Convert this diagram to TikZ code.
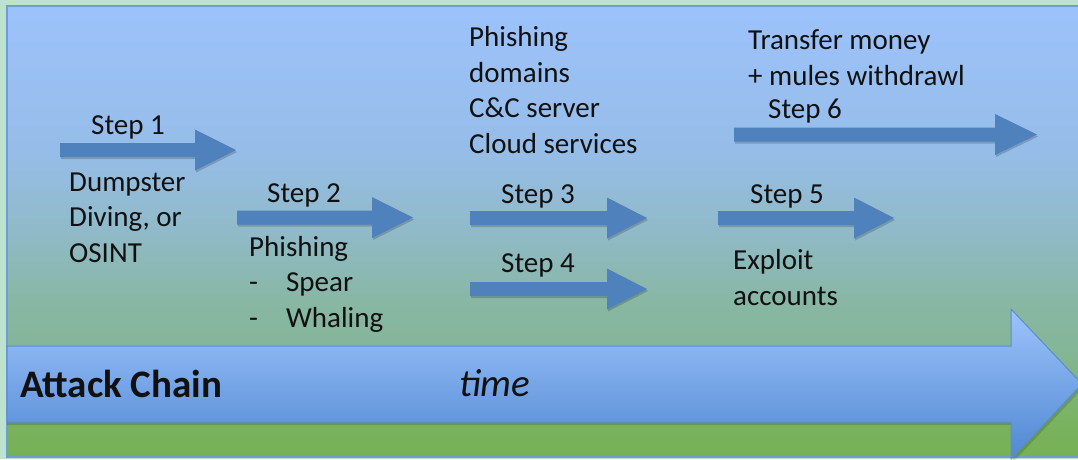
\documentclass[tikz,border=0pt]{standalone}
\usepackage{fontspec}
\setmainfont{Carlito}
\usetikzlibrary{shadows}

\definecolor{outerbg}{HTML}{BDE3CF}
\definecolor{pTop}{HTML}{9CC2FC}
\definecolor{pSky}{HTML}{96BDE8}
\definecolor{pTeal}{HTML}{90BAC8}
\definecolor{pSage}{HTML}{88B7A4}
\definecolor{pMoss}{HTML}{84B698}
\definecolor{pGreen}{HTML}{79B25B}
\definecolor{pGreenDeep}{HTML}{76B056}
\definecolor{panelEdge}{HTML}{6E9CD6}
\definecolor{stepBlue}{HTML}{4F81BD}
\definecolor{chainTop}{HTML}{9DC3FC}
\definecolor{chainBottom}{HTML}{5088D2}
\definecolor{chainEdge}{HTML}{5B8DD2}
\definecolor{inkText}{HTML}{111111}

% background panel: sky blue at the top fading to grass green at the bottom
\pgfdeclareverticalshading{panelfill}{100bp}{%
  color(0bp)=(pGreenDeep); color(25bp)=(pGreenDeep); color(28bp)=(pGreen);
  color(37bp)=(pMoss); color(42.4bp)=(pSage); color(50bp)=(pTeal);
  color(59bp)=(pSky); color(75bp)=(pTop); color(100bp)=(pTop)}

% block arrow: tail x, head start x, tip x, centre y
\newcommand{\blockarrow}[4]{%
  \fill[steparrow] (#1,#4-7) -- (#2,#4-7) -- (#2,#4-20.5) -- (#3,#4)
    -- (#2,#4+20.5) -- (#2,#4+7) -- (#1,#4+7) -- cycle;}

\newcommand{\dashitem}[1]{\makebox[37pt][l]{-}#1}

\begin{document}
\begin{tikzpicture}[x=1pt,y=-1pt,
  steparrow/.style={fill=stepBlue,
    drop shadow={shadow xshift=1pt,shadow yshift=-2pt,opacity=0.18,fill=black}},
  txt/.style={font=\fontsize{29}{35.5}\selectfont, inner sep=0pt,
    anchor=base west, align=left, text=inkText},
  bigtxt/.style={font=\fontsize{39}{46}\selectfont, inner sep=0pt,
    anchor=base west, text=inkText}]
\useasboundingbox (0,0) rectangle (1078,459);
\clip (0,0) rectangle (1078,459);

% surrounding slide background
\fill[outerbg] (0,0) rectangle (1078,459);

% panel
\shade[shading=panelfill] (7,6) rectangle (1090,457);
\draw[panelEdge, line width=1.2pt] (7,6) rectangle (1090,457);

% time line arrow
\fill[black, opacity=0.15] (7,349) -- (1013,349) -- (1013,312) -- (1084,387)
  -- (1013,462) -- (1013,425) -- (7,425) -- cycle;
\shade[top color=chainTop, bottom color=chainBottom, draw=chainEdge, line width=1pt]
  (7,346) -- (1011,346) -- (1011,309) -- (1082,384) -- (1011,459)
  -- (1011,422) -- (7,422) -- cycle;

% step arrows
\blockarrow{60}{195}{236}{150}
\blockarrow{237}{372}{413}{217.5}
\blockarrow{470}{607}{647}{218}
\blockarrow{470}{607}{647}{289}
\blockarrow{718}{854}{894}{218}
\blockarrow{734}{995}{1037}{134.5}

% labels (multi-line nodes are placed by the baseline of their last line)
\node[txt] (s1) at (91,134) {Step 1};
\node[txt] (osint) at (69,262) {Dumpster\\Diving, or\\OSINT};
\node[txt] (s2) at (267,202) {Step 2};
\node[txt] (phish) at (249,327) {Phishing\\\dashitem{Spear}\\\dashitem{Whaling}};
\node[txt] (infra) at (469,153) {Phishing\\domains\\C\&C server\\Cloud services};
\node[txt] (s3) at (501,203) {Step 3};
\node[txt] (s4) at (501,272) {Step 4};
\node[txt] (s5) at (750,203) {Step 5};
\node[txt] (exploit) at (733,305) {Exploit\\accounts};
\node[txt] (money) at (748,85) {Transfer money\\+ mules withdrawl};
\node[txt] (s6) at (768,118) {Step 6};
\node[bigtxt] (chain) at (20,397) {\bfseries Attack Chain};
\node[bigtxt] (time) at (459,396) {\itshape time};
\end{tikzpicture}
\end{document}
